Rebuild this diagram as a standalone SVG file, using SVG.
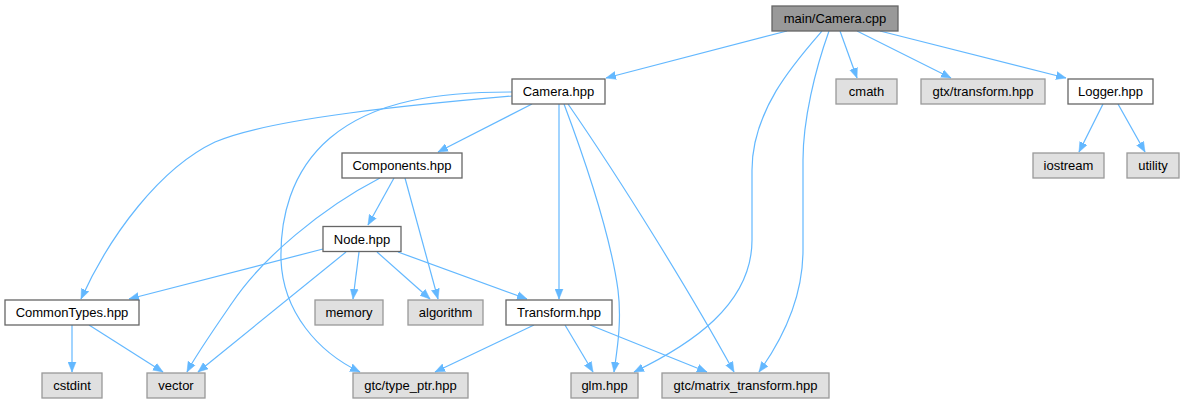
<svg xmlns="http://www.w3.org/2000/svg" width="1185" height="405" viewBox="0 0 1185 405">
<defs>
<style>
.n rect{fill:#ffffff;stroke:#666666;stroke-width:1.3}
.g rect{fill:#e0e0e0;stroke:#999999;stroke-width:1.3}
.m rect{fill:#999999;stroke:#666666;stroke-width:1.3}
text{font-family:"Liberation Sans",Arial,Helvetica,sans-serif;font-size:13px;fill:#000000;text-anchor:middle}
.e path{fill:none;stroke:#63b8ff;stroke-width:1.2;marker-end:url(#ah)}
</style>
<marker id="ah" markerUnits="userSpaceOnUse" markerWidth="11" markerHeight="9" refX="10" refY="4" orient="auto" viewBox="0 0 11 8">
<path d="M0,0 L10,4 L0,8 z" fill="#63b8ff" stroke="#63b8ff" stroke-width="0.5"/>
</marker>
</defs>
<rect width="1185" height="405" fill="#ffffff"/>
<g id="edges" class="e">
<path d="M787,31 L606,78"/>
<path d="M840,31 L857,78"/>
<path d="M857,31 L951,78"/>
<path d="M880,31 L1066,78"/>
<path d="M822,31 C795,62 752,110 752,170 L752,240 C752,305 690,345 634,372"/>
<path d="M829,31 C815,70 803,120 803,160 L803,250 C803,300 782,340 759,372"/>
<path d="M512,96 C420,104 270,118 215,142 C160,168 110,235 81,299"/>
<path d="M512,92 C440,92 375,100 330,138 C290,172 280,220 281,260 C283,312 318,352 360,372"/>
<path d="M532,104 L438,152"/>
<path d="M559,104 L559,299"/>
<path d="M564,104 C582,152 610,232 618,290 C622,322 617,350 614,372"/>
<path d="M568,104 C622,182 690,292 734,372"/>
<path d="M394,178 L368,225"/>
<path d="M405,178 L438,299"/>
<path d="M380,178 C322,208 262,258 232,303 C212,332 196,355 187,372"/>
<path d="M323,249 L129,299"/>
<path d="M346,252 L198,372"/>
<path d="M359,252 L353,299"/>
<path d="M377,252 L430,299"/>
<path d="M398,252 L527,299"/>
<path d="M72,325 L72,372"/>
<path d="M89,325 L163,372"/>
<path d="M534,325 L435,372"/>
<path d="M565,325 L593,372"/>
<path d="M590,325 L707,372"/>
<path d="M1103,104 L1079,152"/>
<path d="M1118,104 L1145,152"/>
</g>
<g id="main_Camera_cpp" class="m"><rect x="772" y="6" width="126" height="25"/><text x="835" y="23">main/Camera.cpp</text></g>
<g id="Camera_hpp" class="n"><rect x="512" y="79" width="93" height="25"/><text x="558.5" y="96">Camera.hpp</text></g>
<g id="cmath" class="g"><rect x="836" y="79" width="61" height="25"/><text x="866.5" y="96">cmath</text></g>
<g id="gtx_transform_hpp" class="g"><rect x="921" y="79" width="124" height="25"/><text x="983" y="96">gtx/transform.hpp</text></g>
<g id="Logger_hpp" class="n"><rect x="1068" y="79" width="85" height="25"/><text x="1110.5" y="96">Logger.hpp</text></g>
<g id="iostream" class="g"><rect x="1033" y="153" width="71" height="25"/><text x="1068.5" y="170">iostream</text></g>
<g id="utility" class="g"><rect x="1127" y="153" width="52" height="25"/><text x="1153" y="170">utility</text></g>
<g id="Components_hpp" class="n"><rect x="342" y="153" width="120" height="25"/><text x="402" y="170">Components.hpp</text></g>
<g id="Node_hpp" class="n"><rect x="323" y="226.5" width="78" height="25"/><text x="362" y="243.5">Node.hpp</text></g>
<g id="CommonTypes_hpp" class="n"><rect x="5" y="300" width="134" height="25"/><text x="72" y="317">CommonTypes.hpp</text></g>
<g id="memory" class="g"><rect x="315" y="300" width="68" height="25"/><text x="349" y="317">memory</text></g>
<g id="algorithm" class="g"><rect x="408" y="300" width="75" height="25"/><text x="445.5" y="317">algorithm</text></g>
<g id="Transform_hpp" class="n"><rect x="506" y="300" width="106" height="25"/><text x="559" y="317">Transform.hpp</text></g>
<g id="cstdint" class="g"><rect x="42" y="373" width="60" height="25"/><text x="72" y="390">cstdint</text></g>
<g id="vector" class="g"><rect x="147" y="373" width="58" height="25"/><text x="176" y="390">vector</text></g>
<g id="gtc_type_ptr_hpp" class="g"><rect x="353" y="373" width="115" height="25"/><text x="410.5" y="390">gtc/type_ptr.hpp</text></g>
<g id="glm_hpp" class="g"><rect x="571" y="373" width="67" height="25"/><text x="604.5" y="390">glm.hpp</text></g>
<g id="gtc_matrix_transform_hpp" class="g"><rect x="662" y="373" width="167" height="25"/><text x="745.5" y="390">gtc/matrix_transform.hpp</text></g>
</svg>
